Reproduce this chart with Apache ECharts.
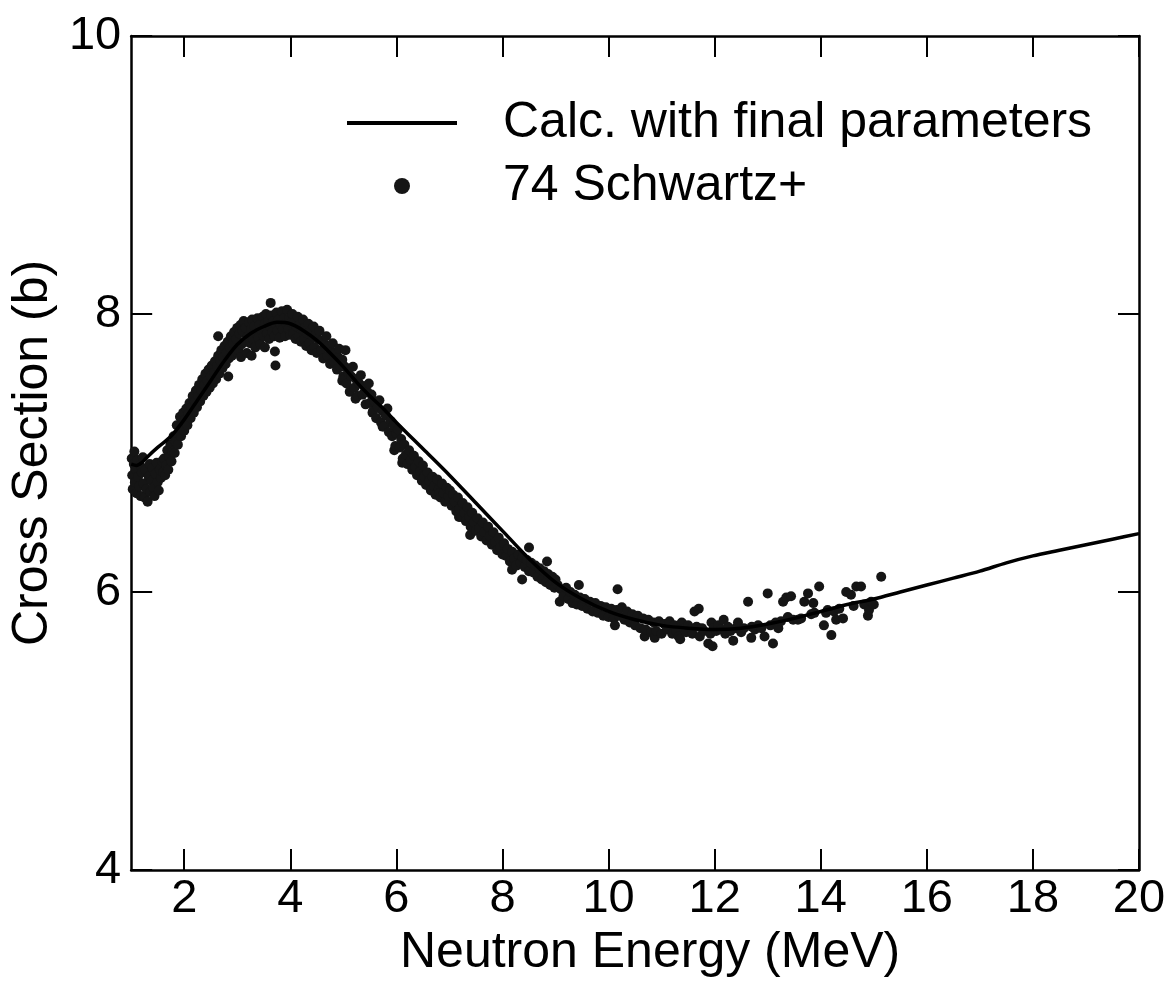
<!DOCTYPE html>
<html>
<head>
<meta charset="utf-8">
<script src="https://cdn.jsdelivr.net/npm/echarts@6/dist/echarts.min.js"></script>
<style>html,body{margin:0;padding:0;background:#fff;}#c{width:1169px;height:997px;}</style>
</head>
<body>
<div id="c"></div>
<script>
var xTickValues = [2, 4, 6, 8, 10, 12, 14, 16, 18, 20];
var yTickValues = [4, 6, 8, 10];
var calcName = 'Calc. with final parameters';
var dataName = '74 Schwartz+';

var calcCurve = [[1.0,6.92],[1.1,6.91],[1.2,6.93],[1.3,6.97],[1.5,7.04],[1.75,7.12],[2.0,7.24],[2.25,7.38],[2.5,7.52],[2.75,7.66],[3.0,7.78],[3.25,7.86],[3.5,7.91],[3.75,7.94],[4.0,7.93],[4.25,7.88],[4.5,7.81],[4.75,7.72],[5.0,7.62],[5.25,7.51],[5.5,7.41],[5.75,7.32],[6.0,7.22],[6.5,7.03],[7.0,6.84],[7.5,6.64],[8.0,6.44],[8.5,6.24],[9.0,6.07],[9.5,5.95],[10.0,5.86],[10.5,5.80],[11.0,5.76],[11.5,5.74],[12.0,5.73],[12.5,5.74],[13.0,5.77],[13.5,5.81],[14.0,5.86],[14.5,5.91],[15.0,5.95],[15.5,6.00],[16.0,6.05],[16.5,6.10],[17.0,6.15],[17.5,6.21],[18.0,6.26],[18.5,6.30],[19.0,6.34],[19.5,6.38],[20.0,6.42]];

var schwartz = [
[1.01,6.96],[1.02,6.84],[1.03,6.74],[1.05,6.92],[1.06,7.01],[1.07,6.79],[1.09,6.88],[1.10,6.71],[1.12,6.95],[1.13,6.83],[1.15,6.76],[1.17,6.91],[1.18,6.69],[1.20,6.86],[1.22,6.97],[1.23,6.78],[1.25,6.68],[1.27,6.88],[1.29,6.74],[1.31,6.65],[1.33,6.83],[1.35,6.92],[1.36,6.72],[1.38,6.80],[1.40,6.89],[1.42,6.75],[1.44,6.69],[1.46,6.85],[1.48,6.93],[1.50,6.79],[1.52,6.73],[1.54,6.88],[1.56,6.82],[1.58,6.94],[1.60,6.86],
[1.62,6.96],[1.64,6.84],[1.66,6.91],[1.68,7.02],[1.70,6.88],[1.72,6.97],[1.74,7.06],[1.76,6.94],[1.78,7.01],[1.80,7.12],[1.82,7.00],[1.84,7.08],[1.86,7.20],[1.88,7.06],[1.90,7.14],[1.92,7.26],[1.94,7.12],[1.96,7.20],[1.98,7.29],[2.00,7.16],
[2.02,7.24],[2.04,7.32],[2.06,7.20],[2.08,7.28],[2.10,7.36],[2.12,7.25],[2.14,7.33],[2.16,7.41],[2.18,7.29],[2.20,7.37],[2.22,7.45],[2.24,7.33],[2.26,7.41],[2.28,7.49],[2.30,7.37],[2.32,7.45],[2.34,7.53],[2.36,7.41],[2.38,7.49],[2.40,7.57],[2.42,7.44],[2.44,7.52],[2.46,7.60],[2.48,7.47],[2.50,7.55],
[2.52,7.63],[2.54,7.50],[2.56,7.58],[2.58,7.66],[2.60,7.53],[2.62,7.62],[2.64,7.70],[2.64,7.84],[2.66,7.57],[2.68,7.66],[2.70,7.74],[2.72,7.61],[2.74,7.69],[2.76,7.77],[2.78,7.64],[2.80,7.72],[2.82,7.80],[2.83,7.55],[2.84,7.68],[2.86,7.76],[2.88,7.84],[2.90,7.70],[2.92,7.79],[2.94,7.87],[2.96,7.73],[2.98,7.82],[3.00,7.90],
[3.02,7.74],[3.04,7.86],[3.06,7.92],[3.07,7.69],[3.08,7.78],[3.10,7.88],[3.12,7.95],[3.14,7.80],[3.16,7.90],[3.18,7.72],[3.20,7.84],[3.22,7.94],[3.24,7.79],[3.26,7.89],[3.27,7.70],[3.28,7.96],[3.30,7.82],[3.32,7.91],[3.34,7.76],[3.36,7.86],[3.38,7.97],[3.40,7.83],[3.42,7.92],[3.44,7.78],[3.46,7.88],[3.48,7.98],[3.50,7.84],
[3.52,7.93],[3.52,7.76],[3.54,8.00],[3.56,7.86],[3.58,7.95],[3.60,7.82],[3.62,7.91],[3.63,8.08],[3.64,7.99],[3.66,7.87],[3.68,7.95],[3.70,7.84],[3.71,7.73],[3.72,7.63],[3.72,7.93],[3.74,8.01],[3.76,7.88],[3.78,7.96],[3.80,7.83],[3.82,7.92],[3.84,8.02],[3.86,7.89],[3.88,7.97],[3.90,7.84],[3.92,7.93],[3.94,8.03],[3.96,7.89],[3.98,7.97],[4.00,7.85],
[4.02,7.94],[4.04,8.00],[4.06,7.86],[4.08,7.94],[4.10,7.82],[4.12,7.91],[4.14,7.98],[4.16,7.84],[4.18,7.92],[4.20,7.80],[4.22,7.89],[4.24,7.96],[4.26,7.82],[4.28,7.90],[4.30,7.77],[4.32,7.86],[4.34,7.93],[4.36,7.79],[4.38,7.88],[4.40,7.74],[4.42,7.84],[4.44,7.91],[4.46,7.76],[4.48,7.85],[4.50,7.72],
[4.52,7.82],[4.55,7.88],[4.58,7.74],[4.60,7.81],[4.62,7.68],[4.65,7.78],[4.68,7.84],[4.70,7.70],[4.72,7.77],[4.75,7.64],[4.78,7.73],[4.80,7.79],[4.82,7.66],[4.85,7.72],[4.88,7.60],[4.90,7.69],[4.92,7.75],[4.95,7.62],[4.98,7.67],[4.98,7.52],[5.00,7.55],[5.02,7.53],[5.04,7.74],
[5.03,7.62],[5.06,7.50],[5.09,7.58],[5.12,7.44],[5.15,7.55],[5.18,7.62],[5.21,7.47],[5.23,7.39],[5.24,7.53],[5.27,7.41],[5.30,7.50],[5.33,7.56],[5.36,7.42],[5.39,7.48],[5.42,7.35],[5.45,7.44],[5.48,7.50],[5.50,7.36],
[5.53,7.42],[5.55,7.29],[5.56,7.30],[5.59,7.37],[5.62,7.25],[5.65,7.33],[5.68,7.38],[5.71,7.22],[5.74,7.30],[5.74,7.19],[5.77,7.19],[5.80,7.27],[5.83,7.32],[5.86,7.15],[5.89,7.23],[5.92,7.12],[5.95,7.20],[5.96,7.02],[5.98,7.05],[6.00,7.14],
[6.03,7.17],[6.06,7.04],[6.09,7.10],[6.11,6.93],[6.12,6.96],[6.15,7.06],[6.18,6.99],[6.21,6.92],[6.24,7.02],[6.27,6.95],[6.30,6.88],[6.33,6.98],[6.36,6.90],[6.39,6.84],[6.42,6.94],[6.45,6.87],[6.48,6.80],[6.50,6.91],
[6.53,6.84],[6.53,6.83],[6.56,6.77],[6.59,6.86],[6.62,6.80],[6.65,6.73],[6.68,6.83],[6.71,6.76],[6.74,6.70],[6.77,6.81],[6.80,6.74],[6.81,6.71],[6.83,6.68],[6.86,6.78],[6.89,6.71],[6.92,6.65],[6.95,6.75],[6.98,6.69],
[7.01,6.73],[7.04,6.62],[7.07,6.70],[7.10,6.65],[7.13,6.58],[7.16,6.68],[7.18,6.54],[7.19,6.60],[7.22,6.54],[7.25,6.64],[7.28,6.57],[7.31,6.51],[7.34,6.61],[7.37,6.54],[7.39,6.41],[7.40,6.47],[7.43,6.57],[7.46,6.50],[7.50,6.44],
[7.53,6.53],[7.56,6.46],[7.60,6.40],[7.63,6.50],[7.66,6.43],[7.70,6.37],[7.73,6.47],[7.76,6.40],[7.80,6.34],[7.83,6.43],[7.86,6.36],[7.90,6.30],[7.93,6.39],[7.96,6.32],[8.00,6.27],
[8.03,6.35],[8.07,6.26],[8.10,6.31],[8.14,6.22],[8.18,6.29],[8.18,6.16],[8.22,6.24],[8.26,6.19],[8.30,6.27],[8.34,6.21],[8.37,6.09],[8.38,6.25],[8.42,6.18],[8.46,6.23],[8.50,6.32],[8.50,6.15],
[8.54,6.21],[8.58,6.14],[8.62,6.19],[8.66,6.11],[8.70,6.17],[8.74,6.09],[8.78,6.15],[8.82,6.07],[8.84,6.22],[8.86,6.13],[8.90,6.05],[8.94,6.11],[8.98,6.03],[9.00,6.09],
[9.04,6.05],[9.08,5.93],[9.10,6.02],[9.15,5.97],[9.20,6.03],[9.24,5.95],[9.28,6.00],[9.32,5.92],[9.36,5.98],[9.40,5.91],[9.44,6.05],[9.46,5.96],[9.50,5.90],
[9.55,5.95],[9.60,5.88],[9.65,5.93],[9.70,5.86],[9.75,5.92],[9.80,5.85],[9.85,5.90],[9.90,5.83],[9.95,5.89],[10.00,5.82],
[10.05,5.88],[10.10,5.81],[10.12,5.76],[10.15,5.87],[10.17,6.02],[10.20,5.83],[10.25,5.89],[10.30,5.80],[10.35,5.86],[10.40,5.78],[10.45,5.84],[10.50,5.76],[10.55,5.83],[10.60,5.74],[10.65,5.81],[10.68,5.68],[10.70,5.73],[10.75,5.80],[10.80,5.71],[10.85,5.78],[10.87,5.67],[10.90,5.72],[10.95,5.79],[11.00,5.70],
[11.05,5.77],[11.10,5.73],[11.15,5.79],[11.20,5.70],[11.24,5.76],[11.28,5.72],[11.32,5.68],[11.35,5.66],[11.38,5.78],[11.42,5.74],[11.46,5.71],[11.50,5.76],[11.55,5.73],[11.58,5.70],[11.62,5.86],[11.66,5.75],[11.70,5.88],[11.72,5.68],[11.76,5.74],[11.80,5.72],[11.88,5.63],[11.92,5.70],[11.94,5.78],[11.96,5.61],[11.98,5.74],
[12.03,5.72],[12.07,5.76],[12.12,5.73],[12.17,5.80],[12.20,5.70],[12.25,5.75],[12.30,5.72],[12.35,5.65],[12.40,5.74],[12.44,5.78],[12.50,5.71],[12.55,5.74],[12.63,5.93],[12.69,5.67],[12.70,5.75],[12.76,5.73],[12.82,5.76],[12.88,5.74],[12.94,5.68],
[13.00,5.99],[13.05,5.76],[13.10,5.63],[13.15,5.78],[13.20,5.74],[13.25,5.79],[13.29,5.93],[13.35,5.96],[13.38,5.82],[13.44,5.97],[13.48,5.80],[13.57,5.80],[13.63,5.81],[13.69,5.93],[13.76,5.99],[13.82,5.84],[13.86,5.92],[13.88,5.85],[13.97,6.04],
[14.06,5.76],[14.10,5.85],[14.13,5.87],[14.20,5.69],[14.25,5.86],[14.29,5.80],[14.35,5.88],[14.42,5.81],[14.48,6.00],[14.57,5.98],[14.62,5.90],[14.67,6.04],[14.76,6.04],[14.82,5.91],[14.89,5.83],[14.91,5.87],[14.95,5.93],[15.00,5.91],[15.14,6.11]
];

var chart = echarts.init(document.getElementById('c'), null, {renderer: 'canvas'});
var FONT = 'Liberation Sans, Arial, Helvetica, sans-serif';
var axisLineStyle = {color: '#000', width: 2.5};
var tickStyle = {color: '#000', width: 2};

chart.setOption({
  animation: false,
  backgroundColor: '#fff',
  grid: {left: 128, right: 30, top: 36, bottom: 127, containLabel: false},
  legend: {
    orient: 'vertical',
    left: 342,
    top: 93,
    itemWidth: 110,
    itemHeight: 16,
    itemGap: 13,
    data: [
      {name: calcName, icon: 'path://M0,0H110V4H0Z'},
      {name: dataName, icon: 'circle'}
    ],
    textStyle: {fontFamily: FONT, fontSize: 50, color: '#000', padding: [0, 0, 0, 41]}
  },
  xAxis: [{
    type: 'value', min: 1, max: 20, position: 'bottom',
    name: 'Neutron Energy (MeV)', nameLocation: 'middle', nameGap: 52,
    nameTextStyle: {fontFamily: FONT, fontSize: 50, color: '#000', padding: [0, 0, 0, 30]},
    axisLine: {show: true, onZero: false, lineStyle: axisLineStyle},
    axisTick: {show: true, inside: true, length: 21, lineStyle: tickStyle, customValues: xTickValues},
    axisLabel: {show: true, fontFamily: FONT, fontSize: 47, color: '#000', margin: 6, customValues: xTickValues},
    splitLine: {show: false}
  }, {
    type: 'value', min: 1, max: 20, position: 'top',
    axisLine: {show: true, onZero: false, lineStyle: axisLineStyle},
    axisTick: {show: true, inside: true, length: 21, lineStyle: tickStyle, customValues: xTickValues},
    axisLabel: {show: false},
    splitLine: {show: false}
  }],
  yAxis: [{
    type: 'value', min: 4, max: 10, interval: 2, position: 'left',
    name: 'Cross Section (b)', nameLocation: 'middle', nameGap: 66,
    nameTextStyle: {fontFamily: FONT, fontSize: 50, color: '#000'},
    axisLine: {show: true, onZero: false, lineStyle: axisLineStyle},
    axisTick: {show: true, inside: true, length: 21, lineStyle: tickStyle, customValues: yTickValues},
    axisLabel: {show: true, fontFamily: FONT, fontSize: 47, color: '#000', margin: 10, customValues: yTickValues},
    splitLine: {show: false}
  }, {
    type: 'value', min: 4, max: 10, interval: 2, position: 'right',
    axisLine: {show: true, onZero: false, lineStyle: axisLineStyle},
    axisTick: {show: true, inside: true, length: 21, lineStyle: tickStyle, customValues: yTickValues},
    axisLabel: {show: false},
    splitLine: {show: false}
  }],
  series: [{
    name: dataName,
    type: 'scatter',
    data: schwartz,
    symbol: 'circle',
    symbolSize: 10,
    itemStyle: {color: '#151515', opacity: 1},
    z: 2
  }, {
    name: calcName,
    type: 'line',
    data: calcCurve,
    smooth: 0.3,
    symbol: 'none',
    showSymbol: false,
    lineStyle: {color: '#000', width: 3.5},
    itemStyle: {color: '#000'},
    z: 3
  }]
});
</script>
</body>
</html>
